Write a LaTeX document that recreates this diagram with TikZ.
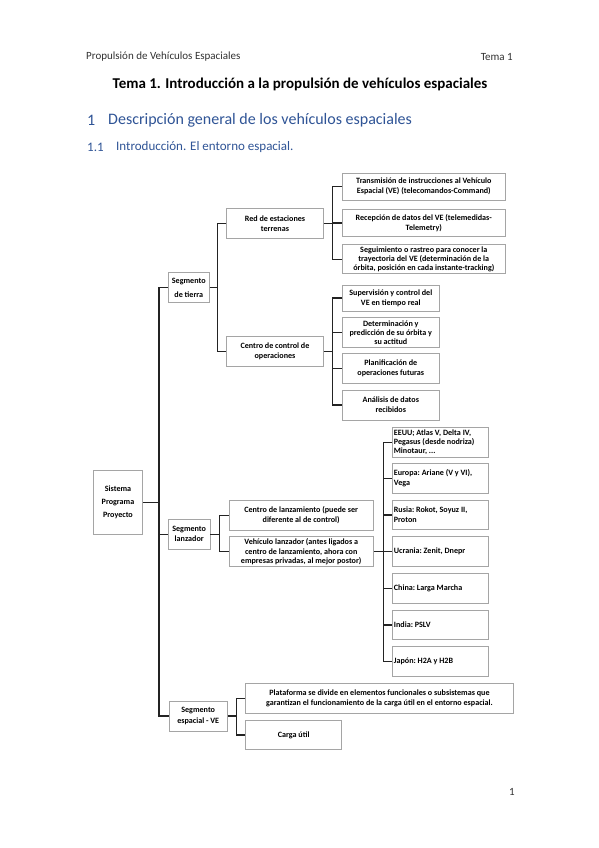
\documentclass[tikz,border=0pt]{standalone}
\usepackage{fontspec}
\setmainfont{Carlito}
\definecolor{headblue}{RGB}{47,84,150}
\definecolor{boxgray}{RGB}{165,165,165}
\definecolor{linec}{RGB}{35,35,35}
\definecolor{hdrgray}{RGB}{50,50,50}
\newcommand{\dfnt}[1]{\bfseries\fontsize{8.1}{#1}\selectfont\frenchspacing}
\tikzset{
  box/.style={draw=boxgray, line width=0.8pt, fill=white, inner xsep=1.5pt, inner ysep=0pt, align=center, font={\dfnt{10}}, text=black},
  cbox/.style={box, align=left, text width=93pt, minimum width=96.2pt, minimum height=29.7pt, execute at begin node={\spaceskip=0pt\xspaceskip=0pt\relax}},
  link/.style={draw=linec, line width=1.4pt, line join=miter},
  hdr/.style={inner sep=0pt, anchor=west, text=hdrgray, font=\fontsize{11}{13}\selectfont},
  hone/.style={inner sep=0pt, anchor=west, text=headblue, font=\fontsize{16}{19}\selectfont},
  htwo/.style={inner sep=0pt, anchor=west, text=headblue, font=\fontsize{13}{16}\selectfont},
}
\begin{document}
\begin{tikzpicture}[x=1pt, y=-1pt]
\fill[white] (0,0) rectangle (599,848);
\useasboundingbox (0,0) rectangle (599,848);

% page header and headings
\node[hdr] (hleft) at (86,57) {Propulsión de Vehículos Espaciales};
\node[hdr, anchor=east] (hright) at (513,57) {Tema 1};
\node[inner sep=0pt, font=\bfseries\fontsize{15}{18}\selectfont] (title) at (300,84) {Tema 1. Introducción a la propulsión de vehículos espaciales};
\node[hone] (s1n) at (87,120) {1};
\node[hone] (s1) at (108,120) {Descripción general de los vehículos espaciales};
\node[htwo] (s2n) at (87,147) {1.1};
\node[htwo] (s2) at (116,147) {Introducción. El entorno espacial.};
\node[inner sep=0pt, text=hdrgray, font=\fontsize{11}{13}\selectfont] (pg) at (512,792) {1};

% level 0
\node[box, minimum width=49.4pt, minimum height=64.3pt, font={\dfnt{13}}] (sis) at (118,502.2) {Sistema\\Programa\\Proyecto};

% level 1
\node[box, minimum width=41pt, minimum height=30pt, font={\dfnt{14.5}}] (tierra) at (188.8,287.7) {Segmento\\de tierra};
\node[box, minimum width=41.7pt, minimum height=30.3pt] (lanz) at (189.2,534.2) {Segmento\\lanzador};
\node[box, minimum width=58.3pt, minimum height=30pt, font={\dfnt{11}}] (esp) at (198.2,716) {Segmento\\espacial - VE};

% ground segment
\node[box, minimum width=96.6pt, minimum height=30pt] (red) at (275,223.3) {Red de estaciones\\terrenas};
\node[box, minimum width=96.6pt, minimum height=29.3pt] (ctrl) at (275,351.3) {Centro de control de\\operaciones};

\node[box, minimum width=162.3pt, minimum height=27pt] (t1) at (423.8,186.5) {Transmisión de instrucciones al Vehículo\\Espacial (VE) (telecomandos-Command)};
\node[box, minimum width=162.3pt, minimum height=27pt] (t2) at (423.8,223) {Recepción de datos del VE (telemedidas-\\Telemetry)};
\node[box, minimum width=162.3pt, minimum height=29pt, font={\dfnt{9.4}}] (t3) at (423.8,259.3) {Seguimiento o rastreo para conocer la\\trayectoria del VE (determinación de la\\órbita, posición en cada instante-tracking)};

\node[box, minimum width=96.3pt, minimum height=26pt] (c1) at (390.8,298) {Supervisión y control del\\VE en tiempo real};
\node[box, minimum width=96.3pt, minimum height=30pt, font={\dfnt{9.4}}] (c2) at (390.8,332.7) {Determinación y\\predicción de su órbita y\\su actitud};
\node[box, minimum width=96.3pt, minimum height=30pt] (c3) at (390.8,368.3) {Planificación de\\operaciones futuras};
\node[box, minimum width=96.3pt, minimum height=30pt] (c4) at (390.8,405) {Análisis de datos\\recibidos};

% launcher segment
\node[box, minimum width=144.3pt, minimum height=29.3pt] (clz) at (301.2,515.3) {Centro de lanzamiento (puede ser\\diferente al de control)};
\node[box, minimum width=144.3pt, minimum height=30pt, font={\dfnt{9.4}}] (vlz) at (301.2,551.7) {Vehículo lanzador (antes ligados a\\centro de lanzamiento, ahora con\\empresas privadas, al mejor postor)};

\node[cbox, font={\dfnt{9.4}}] (k1) at (440.4,442.2) {EEUU; Atlas V, Delta IV,\\Pegasus (desde nodriza)\\Minotaur, ...};
\node[cbox] (k2) at (440.4,478.4) {Europa: Ariane (V y VI),\\Vega};
\node[cbox] (k3) at (440.4,514.9) {Rusia: Rokot, Soyuz II,\\Proton};
\node[cbox] (k4) at (440.4,551.4) {Ucrania: Zenit, Dnepr};
\node[cbox] (k5) at (440.4,588.2) {China: Larga Marcha};
\node[cbox] (k6) at (440.4,624.9) {India: PSLV};
\node[cbox] (k7) at (440.4,661.6) {Japón: H2A y H2B};

% space segment
\node[box, minimum width=267.6pt, minimum height=30pt] (plat) at (379.5,698.3) {Plataforma se divide en elementos funcionales o subsistemas que\\garantizan el funcionamiento de la carga útil en el entorno espacial.};
\node[box, minimum width=96pt, minimum height=29pt] (carga) at (293.7,735) {Carga útil};

% bracket lines
\coordinate (mx) at (159,0);
\coordinate (tx) at (217.7,0);
\coordinate (rx) at (332.3,0);
\coordinate (lx) at (219.3,0);
\coordinate (vx) at (383.3,0);
\coordinate (ex) at (236.7,0);

\draw[link] (sis.east) -- (sis.east -| mx);
\draw[link] (tierra.west) -| (mx |- esp.west) -- (esp.west);
\draw[link] (mx |- lanz.west) -- (lanz.west);

\draw[link] (tierra.east) -- (tierra.east -| tx);
\draw[link] (red.west) -| (tx |- ctrl.west) -- (ctrl.west);

\draw[link] (red.east) -- (red.east -| rx);
\draw[link] (t1.west) -| (rx |- t3.west) -- (t3.west);
\draw[link] (rx |- t2.west) -- (t2.west);

\draw[link] (ctrl.east) -- (ctrl.east -| rx);
\draw[link] (c1.west) -| (rx |- c4.west) -- (c4.west);
\draw[link] (rx |- c2.west) -- (c2.west);
\draw[link] (rx |- c3.west) -- (c3.west);

\draw[link] (lanz.east) -- (lanz.east -| lx);
\draw[link] (clz.west) -| (lx |- vlz.west) -- (vlz.west);

\draw[link] (vlz.east) -- (vlz.east -| vx);
\draw[link] (k1.west) -| (vx |- k7.west) -- (k7.west);
\foreach \k in {k2,k3,k4,k5,k6} { \draw[link] (vx |- \k.west) -- (\k.west); }

\draw[link] (esp.east) -- (esp.east -| ex);
\draw[link] (plat.west) -| (ex |- carga.west) -- (carga.west);
\end{tikzpicture}
\end{document}
